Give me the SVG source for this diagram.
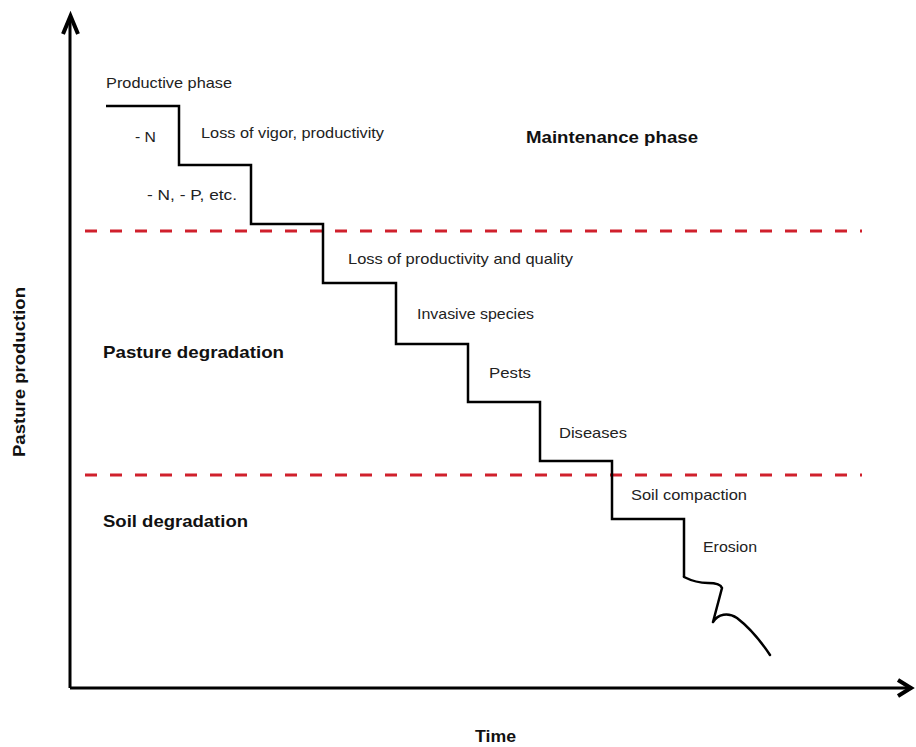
<svg xmlns="http://www.w3.org/2000/svg" width="916" height="747" viewBox="0 0 916 747">
<style>
.t{font-family:"Liberation Sans",Arial,sans-serif;font-size:15px;fill:#222}
.b{font-family:"Liberation Sans",Arial,sans-serif;font-size:17px;font-weight:bold;fill:#111}
.ax{stroke:#000;stroke-width:3;fill:none}
.head{stroke:#000;stroke-width:4;fill:none;stroke-linejoin:miter}
.step{stroke:#000;stroke-width:2.5;fill:none}
.dash{stroke:#d0202c;stroke-width:3;stroke-dasharray:12 13;fill:none}
</style>
<rect width="916" height="747" fill="#fff"/>
<g id="axes">
<line class="ax" x1="70" y1="688" x2="70" y2="18"/>
<line class="ax" x1="70" y1="688" x2="912" y2="688"/>
<polyline class="head" points="63,34 70.5,16 78,34"/>
<polyline class="head" points="898,680 911,688 898,696"/>
</g>
<g id="boundaries">
<line class="dash" x1="85" y1="231" x2="862" y2="231"/>
<line class="dash" x1="85" y1="475" x2="862" y2="475"/>
</g>
<g id="connectors">
<polyline class="step" points="106,106 179,106 179,165 251,165 251,224 323,224 323,283 396,283 396,344 468,344 468,402 540,402 540,461 612,461 612,519 684,519 684,577"/>
<path class="step" stroke-width="3" stroke-linecap="round" stroke-linejoin="round" d="M684,577 C692,581 700,583 708,583 C716,583 721,585 722,588 L713,622 C718,614 728,612 737,618 C750,628 760,640 770,655"/>
</g>
<g id="labels">
<text class="t" x="106" y="88" textLength="126" lengthAdjust="spacingAndGlyphs">Productive phase</text>
<text class="t" x="135" y="142" textLength="21" lengthAdjust="spacingAndGlyphs">- N</text>
<text class="t" x="201" y="138" textLength="183" lengthAdjust="spacingAndGlyphs">Loss of vigor, productivity</text>
<text class="t" x="147" y="200" textLength="90" lengthAdjust="spacingAndGlyphs">- N, - P, etc.</text>
<text class="t" x="348" y="264" textLength="225" lengthAdjust="spacingAndGlyphs">Loss of productivity and quality</text>
<text class="t" x="417" y="319" textLength="117" lengthAdjust="spacingAndGlyphs">Invasive species</text>
<text class="t" x="489" y="378" textLength="42" lengthAdjust="spacingAndGlyphs">Pests</text>
<text class="t" x="559" y="438" textLength="68" lengthAdjust="spacingAndGlyphs">Diseases</text>
<text class="t" x="631" y="500" textLength="116" lengthAdjust="spacingAndGlyphs">Soil compaction</text>
<text class="t" x="703" y="552" textLength="54" lengthAdjust="spacingAndGlyphs">Erosion</text>
</g>
<g id="regions">
<text class="b" x="526" y="143" textLength="172" lengthAdjust="spacingAndGlyphs">Maintenance phase</text>
<text class="b" x="103" y="358" textLength="181" lengthAdjust="spacingAndGlyphs">Pasture degradation</text>
<text class="b" x="103" y="527" textLength="145" lengthAdjust="spacingAndGlyphs">Soil degradation</text>
</g>
<g id="axis-titles">
<text class="b" x="475" y="742" textLength="41" lengthAdjust="spacingAndGlyphs">Time</text>
<text class="b" transform="translate(25,372) rotate(-90)" x="0" y="0" text-anchor="middle" textLength="170" lengthAdjust="spacingAndGlyphs">Pasture production</text>
</g>
</svg>
